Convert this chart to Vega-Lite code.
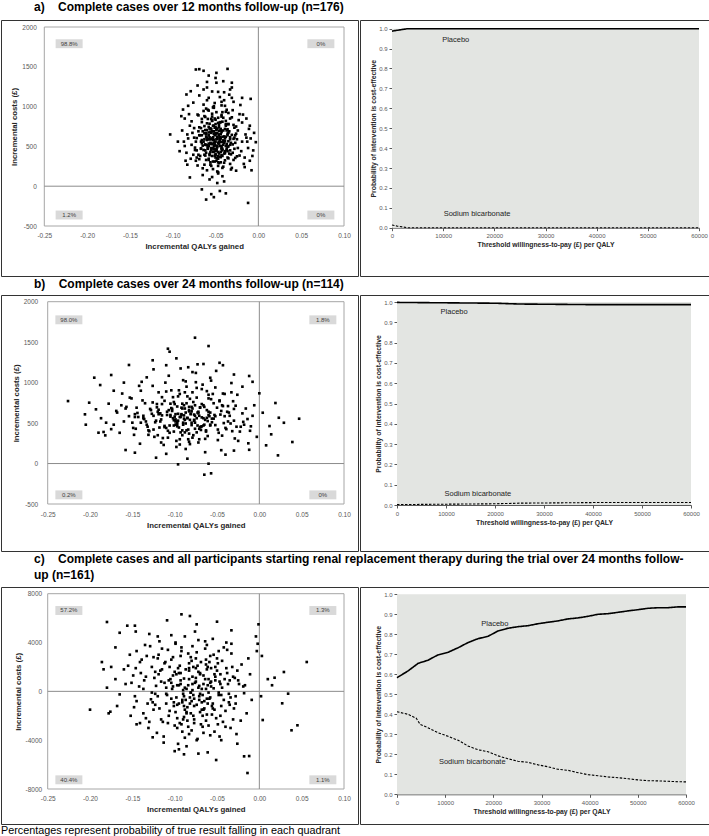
{
"$schema":"https://vega.github.io/schema/vega-lite/v6.json",
"padding":0,
"spacing":0,
"background":"white",
"config":{
 "view":{"stroke":"#333333","strokeWidth":1},
 "font":"Liberation Sans",
 "axis":{"grid":false,"labelFlush":false,"labelOverlap":false,"labelBound":false,"labelColor":"#595959","titleColor":"#262626","labelFont":"Liberation Sans","titleFont":"Liberation Sans","domainColor":"#595959","tickColor":"#595959","titleFontWeight":"bold"},
 "text":{"font":"Liberation Sans"}
},
"title":{"text":"Percentages represent probability of true result falling in each quadrant","orient":"bottom","anchor":"start","frame":"group","fontSize":10.8,"font":"Liberation Sans","fontWeight":"normal","color":"black","offset":0},
"datasets":{
"sa":[
{"q":-0.048,"c":612},{"q":-0.061,"c":420},{"q":-0.035,"c":780},{"q":-0.052,"c":505},{"q":-0.029,"c":330},{"q":-0.070,"c":890},{"q":-0.044,"c":655},{"q":-0.056,"c":270},{"q":-0.039,"c":1010},{"q":-0.066,"c":540},
{"q":-0.051,"c":735},{"q":-0.024,"c":480},{"q":-0.058,"c":950},{"q":-0.043,"c":390},{"q":-0.075,"c":610},{"q":-0.047,"c":160},{"q":-0.033,"c":590},{"q":-0.062,"c":705},{"q":-0.054,"c":820},{"q":-0.037,"c":455},
{"q":-0.069,"c":340},{"q":-0.045,"c":1120},{"q":-0.027,"c":640},{"q":-0.053,"c":580},{"q":-0.041,"c":245},{"q":-0.080,"c":760},{"q":-0.049,"c":470},{"q":-0.031,"c":865},{"q":-0.060,"c":515},{"q":-0.046,"c":695},
{"q":-0.019,"c":560},{"q":-0.064,"c":1215},{"q":-0.050,"c":360},{"q":-0.038,"c":620},{"q":-0.057,"c":85},{"q":-0.042,"c":930},{"q":-0.072,"c":450},{"q":-0.034,"c":410},{"q":-0.055,"c":670},{"q":-0.047,"c":795},
{"q":-0.063,"c":590},{"q":-0.029,"c":1060},{"q":-0.051,"c":525},{"q":-0.084,"c":420},{"q":-0.044,"c":300},{"q":-0.036,"c":715},{"q":-0.059,"c":845},{"q":-0.048,"c":185},{"q":-0.022,"c":385},{"q":-0.067,"c":475},
{"q":-0.053,"c":990},{"q":-0.040,"c":545},{"q":-0.058,"c":640},{"q":-0.031,"c":230},{"q":-0.076,"c":1050},{"q":-0.045,"c":600},{"q":-0.052,"c":435},{"q":-0.026,"c":750},{"q":-0.061,"c":330},{"q":-0.043,"c":875},
{"q":-0.070,"c":690},{"q":-0.049,"c":1300},{"q":-0.035,"c":500},{"q":-0.056,"c":725},{"q":-0.017,"c":280},{"q":-0.046,"c":650},{"q":-0.065,"c":140},{"q":-0.039,"c":565},{"q":-0.054,"c":910},{"q":-0.032,"c":400},
{"q":-0.078,"c":520},{"q":-0.050,"c":780},{"q":-0.042,"c":470},{"q":-0.060,"c":1080},{"q":-0.028,"c":610},{"q":-0.047,"c":345},{"q":-0.058,"c":505},{"q":-0.037,"c":960},{"q":-0.071,"c":260},{"q":-0.044,"c":700},
{"q":-0.055,"c":455},{"q":-0.023,"c":830},{"q":-0.063,"c":665},{"q":-0.048,"c":40},{"q":-0.034,"c":690},{"q":-0.082,"c":600},{"q":-0.051,"c":555},{"q":-0.040,"c":1180},{"q":-0.057,"c":390},{"q":-0.030,"c":525},
{"q":-0.066,"c":805},{"q":-0.045,"c":615},{"q":-0.053,"c":215},{"q":-0.038,"c":760},{"q":-0.074,"c":455},{"q":-0.049,"c":930},{"q":-0.027,"c":355},{"q":-0.060,"c":580},{"q":-0.043,"c":480},{"q":-0.052,"c":1005},
{"q":-0.068,"c":380},{"q":-0.036,"c":640},{"q":-0.056,"c":545},{"q":-0.021,"c":1020},{"q":-0.047,"c":300},{"q":-0.062,"c":870},{"q":-0.041,"c":575},{"q":-0.054,"c":115},{"q":-0.033,"c":850},{"q":-0.077,"c":670},
{"q":-0.050,"c":440},{"q":-0.044,"c":720},{"q":-0.059,"c":960},{"q":-0.026,"c":195},{"q":-0.065,"c":510},{"q":-0.039,"c":415},{"q":-0.052,"c":660},{"q":-0.031,"c":1110},{"q":-0.073,"c":320},{"q":-0.046,"c":535},
{"q":-0.057,"c":785},{"q":-0.014,"c":610},{"q":-0.048,"c":490},{"q":-0.062,"c":385},{"q":-0.035,"c":565},{"q":-0.054,"c":875},{"q":-0.042,"c":230},{"q":-0.069,"c":740},{"q":-0.050,"c":650},{"q":-0.028,"c":470},
{"q":-0.060,"c":1240},{"q":-0.045,"c":370},{"q":-0.038,"c":820},{"q":-0.055,"c":590},{"q":-0.086,"c":505},{"q":-0.049,"c":715},{"q":-0.033,"c":280},{"q":-0.064,"c":455},{"q":-0.043,"c":1060},{"q":-0.052,"c":540},
{"q":-0.024,"c":700},{"q":-0.058,"c":330},{"q":-0.040,"c":625},{"q":-0.071,"c":900},{"q":-0.047,"c":175},{"q":-0.036,"c":495},{"q":-0.053,"c":760},{"q":-0.061,"c":620},{"q":-0.030,"c":955},{"q":-0.046,"c":410},
{"q":-0.067,"c":560},{"q":-0.051,"c":850},{"q":-0.042,"c":450},{"q":-0.079,"c":345},{"q":-0.056,"c":685},{"q":-0.034,"c":1150},{"q":-0.048,"c":595},{"q":-0.063,"c":270},{"q":-0.020,"c":440},{"q":-0.044,"c":805},
{"q":-0.054,"c":380},{"q":-0.039,"c":720},{"q":-0.072,"c":605},{"q":-0.050,"c":1360},{"q":-0.027,"c":545},{"q":-0.059,"c":480},{"q":-0.045,"c":-60},{"q":-0.066,"c":845},{"q":-0.036,"c":360},{"q":-0.052,"c":690},
{"q":-0.041,"c":520},{"q":-0.061,"c":975},{"q":-0.031,"c":645},{"q":-0.047,"c":430},{"q":-0.075,"c":730},{"q":-0.055,"c":255},{"q":-0.043,"c":895},{"q":-0.025,"c":590},{"q":-0.058,"c":745},{"q":-0.049,"c":320},
{"q":-0.064,"c":1025},{"q":-0.037,"c":470},{"q":-0.053,"c":600},{"q":-0.070,"c":395},{"q":-0.046,"c":770},{"q":-0.032,"c":210},{"q":-0.056,"c":530},{"q":-0.081,"c":905},{"q":-0.048,"c":665},{"q":-0.040,"c":1080},
{"q":-0.062,"c":450},{"q":-0.029,"c":770},{"q":-0.051,"c":310},{"q":-0.045,"c":585},{"q":-0.068,"c":640},{"q":-0.035,"c":920},{"q":-0.057,"c":405},{"q":-0.016,"c":360},{"q":-0.050,"c":740},{"q":-0.042,"c":125},
{"q":-0.073,"c":560},{"q":-0.054,"c":1190},{"q":-0.038,"c":505},{"q":-0.060,"c":790},{"q":-0.047,"c":375},{"q":-0.026,"c":660},{"q":-0.065,"c":225},{"q":-0.044,"c":555},{"q":-0.052,"c":985},{"q":-0.033,"c":615},
{"q":-0.089,"c":700},{"q":-0.049,"c":460},{"q":-0.058,"c":675},{"q":-0.041,"c":860},{"q":-0.069,"c":1140},{"q":-0.030,"c":420},{"q":-0.055,"c":535},{"q":-0.046,"c":290},{"q":-0.063,"c":755},{"q":-0.037,"c":700},
{"q":-0.052,"c":580},{"q":-0.076,"c":395},{"q":-0.043,"c":1015},{"q":-0.059,"c":500},{"q":-0.022,"c":905},{"q":-0.048,"c":620},{"q":-0.067,"c":470},{"q":-0.035,"c":350},{"q":-0.054,"c":825},{"q":-0.040,"c":60},
{"q":-0.061,"c":665},{"q":-0.045,"c":505},{"q":-0.071,"c":1265},{"q":-0.050,"c":400},{"q":-0.028,"c":735},{"q":-0.057,"c":590},{"q":-0.039,"c":440},{"q":-0.064,"c":945},{"q":-0.053,"c":310},{"q":-0.032,"c":545},
{"q":-0.047,"c":860},{"q":-0.074,"c":485},{"q":-0.055,"c":720},{"q":-0.042,"c":380},{"q":-0.066,"c":580},{"q":-0.019,"c":800},{"q":-0.051,"c":1045},{"q":-0.060,"c":200},{"q":-0.036,"c":660},{"q":-0.048,"c":510},
{"q":-0.078,"c":815},{"q":-0.044,"c":600},{"q":-0.056,"c":430},{"q":-0.031,"c":1240},{"q":-0.062,"c":520},{"q":-0.049,"c":705},{"q":-0.040,"c":295},{"q":-0.069,"c":640},{"q":-0.053,"c":475},{"q":-0.025,"c":375},
{"q":-0.058,"c":1110},{"q":-0.046,"c":555},{"q":-0.035,"c":780},{"q":-0.072,"c":360},{"q":-0.051,"c":640},{"q":-0.063,"c":880},{"q":-0.043,"c":465},{"q":-0.055,"c":-100},{"q":-0.029,"c":595},{"q":-0.067,"c":730},
{"q":-0.050,"c":395},{"q":-0.038,"c":935},{"q":-0.060,"c":610},{"q":-0.083,"c":270},{"q":-0.047,"c":1185},{"q":-0.054,"c":530},{"q":-0.033,"c":450},{"q":-0.065,"c":690},{"q":-0.042,"c":810},{"q":-0.058,"c":345},
{"q":-0.073,"c":1466},{"q":-0.069,"c":1470},{"q":-0.064,"c":1450},{"q":-0.049,"c":1424},{"q":-0.036,"c":1474},{"q":-0.060,"c":1310},{"q":-0.041,"c":1319},{"q":-0.031,"c":1300},{"q":-0.009,"c":1097},{"q":-0.019,"c":1110},
{"q":-0.103,"c":650},{"q":-0.092,"c":440},{"q":-0.012,"c":-210},{"q":-0.061,"c":-168},{"q":-0.052,"c":-138},{"q":-0.084,"c":1152},{"q":-0.079,"c":1193},{"q":-0.088,"c":963},{"q":-0.003,"c":553},{"q":-0.005,"c":670},
{"q":-0.090,"c":880},{"q":-0.086,"c":850},{"q":-0.007,"c":380},{"q":-0.008,"c":200},{"q":-0.010,"c":760},{"q":-0.094,"c":560},{"q":-0.066,"c":-40},{"q":-0.038,"c":-90},{"q":-0.058,"c":1390},{"q":-0.033,"c":1215},
{"q":-0.012,"c":480},{"q":-0.015,"c":650},{"q":-0.010,"c":320},{"q":-0.018,"c":900},{"q":-0.013,"c":560},{"q":-0.011,"c":720},{"q":-0.016,"c":240},{"q":-0.006,"c":450},{"q":-0.014,"c":850},{"q":-0.009,"c":600},
{"q":-0.085,"c":320},{"q":-0.083,"c":650},{"q":-0.087,"c":560},{"q":-0.082,"c":1010},{"q":-0.080,"c":110},
{"q":-0.050,"c":560},{"q":-0.046,"c":640},{"q":-0.055,"c":480},{"q":-0.041,"c":700},{"q":-0.058,"c":590},{"q":-0.044,"c":430},{"q":-0.052,"c":760},{"q":-0.037,"c":530},{"q":-0.061,"c":650},{"q":-0.048,"c":350},
{"q":-0.053,"c":615},{"q":-0.043,"c":505},{"q":-0.057,"c":725},{"q":-0.039,"c":600},{"q":-0.049,"c":450},{"q":-0.064,"c":560},{"q":-0.045,"c":800},{"q":-0.051,"c":380},{"q":-0.035,"c":670},{"q":-0.059,"c":470},
{"q":-0.047,"c":545},{"q":-0.054,"c":690},{"q":-0.040,"c":410},{"q":-0.062,"c":525},{"q":-0.050,"c":835},{"q":-0.042,"c":620},{"q":-0.056,"c":300},{"q":-0.046,"c":740},{"q":-0.033,"c":520},{"q":-0.060,"c":705},
{"q":-0.049,"c":590},{"q":-0.053,"c":430},{"q":-0.038,"c":780},{"q":-0.057,"c":615},{"q":-0.044,"c":365},{"q":-0.066,"c":640},{"q":-0.051,"c":510},{"q":-0.041,"c":555},{"q":-0.055,"c":845},{"q":-0.047,"c":255},
{"q":-0.052,"c":470},{"q":-0.043,"c":680},{"q":-0.058,"c":535},{"q":-0.036,"c":440},{"q":-0.048,"c":725},{"q":-0.063,"c":395},{"q":-0.045,"c":575},{"q":-0.054,"c":600},{"q":-0.039,"c":325},{"q":-0.050,"c":665}
],
"sb":[
{"q":-0.081,"c":610},{"q":-0.132,"c":455},{"q":-0.047,"c":780},{"q":-0.099,"c":520},{"q":-0.023,"c":395},{"q":-0.158,"c":680},{"q":-0.071,"c":300},{"q":-0.110,"c":890},{"q":-0.062,"c":565},{"q":-0.089,"c":720},
{"q":-0.125,"c":590},{"q":-0.038,"c":640},{"q":-0.094,"c":235},{"q":-0.075,"c":1005},{"q":-0.146,"c":430},{"q":-0.056,"c":510},{"q":-0.103,"c":675},{"q":-0.014,"c":550},{"q":-0.085,"c":830},{"q":-0.120,"c":350},
{"q":-0.066,"c":470},{"q":-0.178,"c":740},{"q":-0.092,"c":600},{"q":-0.043,"c":865},{"q":-0.108,"c":405},{"q":-0.079,"c":1130},{"q":-0.137,"c":560},{"q":-0.029,"c":310},{"q":-0.097,"c":705},{"q":-0.060,"c":640},
{"q":-0.115,"c":820},{"q":-0.087,"c":180},{"q":-0.052,"c":585},{"q":-0.142,"c":960},{"q":-0.073,"c":470},{"q":-0.006,"c":720},{"q":-0.101,"c":535},{"q":-0.165,"c":380},{"q":-0.083,"c":660},{"q":-0.034,"c":495},
{"q":-0.129,"c":675},{"q":-0.068,"c":920},{"q":-0.095,"c":445},{"q":-0.049,"c":290},{"q":-0.118,"c":615},{"q":-0.078,"c":760},{"q":-0.187,"c":560},{"q":-0.058,"c":1060},{"q":-0.106,"c":380},{"q":-0.020,"c":620},
{"q":-0.090,"c":505},{"q":-0.151,"c":805},{"q":-0.040,"c":440},{"q":-0.113,"c":230},{"q":-0.070,"c":690},{"q":-0.134,"c":520},{"q":-0.084,"c":1190},{"q":-0.026,"c":850},{"q":-0.099,"c":610},{"q":-0.063,"c":395},
{"q":-0.121,"c":735},{"q":-0.054,"c":555},{"q":-0.172,"c":480},{"q":-0.088,"c":880},{"q":-0.045,"c":165},{"q":-0.109,"c":640},{"q":-0.076,"c":430},{"q":-0.139,"c":1010},{"q":-0.011,"c":405},{"q":-0.093,"c":575},
{"q":-0.065,"c":700},{"q":-0.124,"c":330},{"q":-0.081,"c":615},{"q":-0.033,"c":995},{"q":-0.154,"c":585},{"q":-0.097,"c":460},{"q":-0.057,"c":795},{"q":-0.116,"c":545},{"q":-0.072,"c":260},{"q":-0.193,"c":670},
{"q":-0.086,"c":950},{"q":-0.046,"c":605},{"q":-0.130,"c":400},{"q":-0.101,"c":760},{"q":-0.018,"c":480},{"q":-0.078,"c":350},{"q":-0.145,"c":690},{"q":-0.061,"c":525},{"q":-0.107,"c":1085},{"q":-0.037,"c":710},
{"q":-0.094,"c":300},{"q":-0.162,"c":865},{"q":-0.069,"c":455},{"q":-0.117,"c":620},{"q":-0.051,"c":1145},{"q":-0.088,"c":540},{"q":-0.003,"c":330},{"q":-0.126,"c":755},{"q":-0.080,"c":645},{"q":-0.141,"c":245},
{"q":-0.059,"c":585},{"q":-0.104,"c":905},{"q":-0.030,"c":530},{"q":-0.084,"c":420},{"q":-0.168,"c":630},{"q":-0.074,"c":815},{"q":-0.112,"c":465},{"q":-0.044,"c":720},{"q":-0.098,"c":205},{"q":-0.136,"c":550},
{"q":-0.067,"c":975},{"q":-0.092,"c":610},{"q":-0.025,"c":280},{"q":-0.121,"c":695},{"q":-0.083,"c":370},{"q":-0.150,"c":505},{"q":-0.055,"c":860},{"q":-0.105,"c":740},{"q":-0.077,"c":540},{"q":-0.039,"c":425},
{"q":-0.133,"c":1065},{"q":-0.090,"c":480},{"q":-0.062,"c":660},{"q":-0.114,"c":315},{"q":-0.008,"c":590},{"q":-0.096,"c":830},{"q":-0.175,"c":425},{"q":-0.071,"c":590},{"q":-0.048,"c":380},{"q":-0.127,"c":615},
{"q":-0.086,"c":745},{"q":-0.140,"c":900},{"q":-0.064,"c":140},{"q":-0.102,"c":560},{"q":-0.031,"c":770},{"q":-0.080,"c":505},{"q":-0.118,"c":445},{"q":-0.052,"c":940},{"q":-0.157,"c":700},{"q":-0.093,"c":385},
{"q":-0.073,"c":630},{"q":-0.110,"c":1215},{"q":-0.042,"c":500},{"q":-0.088,"c":680},{"q":-0.131,"c":355},{"q":-0.060,"c":805},{"q":-0.100,"c":580},{"q":-0.016,"c":680},{"q":-0.082,"c":240},{"q":-0.147,"c":575},
{"q":-0.069,"c":415},{"q":-0.095,"c":905},{"q":-0.036,"c":630},{"q":-0.123,"c":510},{"q":-0.076,"c":720},{"q":-0.184,"c":390},{"q":-0.056,"c":555},{"q":-0.107,"c":660},{"q":-0.090,"c":1030},{"q":-0.027,"c":455},
{"q":-0.138,"c":780},{"q":-0.079,"c":320},{"q":-0.050,"c":690},{"q":-0.115,"c":595},{"q":-0.065,"c":480},{"q":-0.098,"c":280},{"q":-0.144,"c":625},{"q":-0.041,"c":860},{"q":-0.085,"c":565},{"q":-0.119,"c":880},
{"q":-0.061,"c":340},{"q":-0.160,"c":520},{"q":-0.091,"c":740},{"q":-0.032,"c":400},{"q":-0.106,"c":470},{"q":-0.074,"c":935},{"q":-0.128,"c":660},{"q":-0.053,"c":600},{"q":-0.013,"c":250},{"q":-0.097,"c":515},
{"q":-0.082,"c":800},{"q":-0.149,"c":440},{"q":-0.068,"c":570},{"q":-0.111,"c":1000},{"q":-0.044,"c":345},{"q":-0.087,"c":630},{"q":-0.135,"c":745},{"q":-0.058,"c":470},{"q":-0.101,"c":395},{"q":-0.075,"c":1120},
{"q":-0.122,"c":530},{"q":-0.035,"c":590},{"q":-0.094,"c":860},{"q":-0.169,"c":650},{"q":-0.063,"c":410},{"q":-0.104,"c":685},{"q":-0.080,"c":475},{"q":-0.047,"c":770},{"q":-0.116,"c":260},{"q":-0.089,"c":595},
{"q":-0.070,"c":695},{"q":-0.143,"c":575},{"q":-0.022,"c":455},{"q":-0.099,"c":480},{"q":-0.057,"c":1025},{"q":-0.125,"c":420},{"q":-0.083,"c":700},{"q":-0.037,"c":520},{"q":-0.153,"c":815},{"q":-0.091,"c":350},
{"q":-0.066,"c":560},{"q":-0.112,"c":775},{"q":-0.049,"c":420},{"q":-0.079,"c":880},{"q":-0.133,"c":480},{"q":-0.096,"c":615},{"q":-0.028,"c":715},{"q":-0.108,"c":320},{"q":-0.072,"c":640},{"q":-0.181,"c":505},
{"q":-0.054,"c":745},{"q":-0.086,"c":410},{"q":-0.119,"c":665},{"q":-0.041,"c":585},{"q":-0.093,"c":1175},{"q":-0.064,"c":305},{"q":-0.147,"c":610},{"q":-0.077,"c":530},{"q":-0.102,"c":820},{"q":-0.010,"c":460},
{"q":-0.131,"c":410},{"q":-0.060,"c":850},{"q":-0.089,"c":555},{"q":-0.045,"c":650},{"q":-0.115,"c":735},{"q":-0.074,"c":385},{"q":-0.163,"c":720},{"q":-0.097,"c":490},{"q":-0.033,"c":880},{"q":-0.083,"c":270},
{"q":-0.105,"c":600},{"q":-0.068,"c":735},{"q":-0.140,"c":505},{"q":-0.052,"c":475},{"q":-0.091,"c":680},{"q":-0.126,"c":960},{"q":-0.076,"c":590},{"q":-0.019,"c":515},{"q":-0.110,"c":440},{"q":-0.058,"c":630},
{"q":-0.087,"c":1015},{"q":-0.148,"c":355},{"q":-0.043,"c":710},{"q":-0.099,"c":545},{"q":-0.070,"c":450},{"q":-0.120,"c":640},{"q":-0.062,"c":895},{"q":-0.084,"c":300},{"q":-0.137,"c":590},{"q":-0.030,"c":675},
{"q":-0.226,"c":772},{"q":-0.201,"c":752},{"q":-0.206,"c":608},{"q":-0.195,"c":1061},{"q":-0.188,"c":970},{"q":-0.175,"c":1094},{"q":-0.154,"c":1218},{"q":-0.126,"c":1276},{"q":-0.125,"c":1164},{"q":-0.108,"c":1419},
{"q":-0.106,"c":1382},{"q":-0.076,"c":1555},{"q":-0.060,"c":1452},{"q":-0.073,"c":1226},{"q":-0.066,"c":1230},{"q":-0.047,"c":1245},{"q":-0.043,"c":1215},{"q":-0.012,"c":1082},{"q":0.000,"c":868},{"q":0.019,"c":748},
{"q":0.047,"c":554},{"q":0.039,"c":266},{"q":0.023,"c":566},{"q":0.029,"c":504},{"q":0.012,"c":463},{"q":0.014,"c":361},{"q":0.008,"c":225},{"q":0.004,"c":628},{"q":0.022,"c":101},{"q":-0.190,"c":381},
{"q":-0.182,"c":348},{"q":-0.158,"c":167},{"q":-0.147,"c":134},{"q":-0.122,"c":72},{"q":-0.096,"c":-10},{"q":-0.065,"c":-138},{"q":-0.057,"c":-121},{"q":-0.060,"c":-2},{"q":-0.098,"c":1300},{"q":-0.160,"c":1000},
{"q":-0.205,"c":480},{"q":-0.172,"c":900},{"q":-0.020,"c":950},{"q":-0.008,"c":1010},{"q":-0.030,"c":1100},{"q":-0.012,"c":170},{"q":-0.030,"c":160},{"q":-0.040,"c":110},{"q":-0.085,"c":60},{"q":-0.110,"c":120},
{"q":-0.085,"c":560},{"q":-0.072,"c":620},{"q":-0.098,"c":480},{"q":-0.064,"c":540},{"q":-0.109,"c":600},{"q":-0.080,"c":700},{"q":-0.091,"c":410},{"q":-0.076,"c":505},{"q":-0.103,"c":650},{"q":-0.068,"c":460},
{"q":-0.094,"c":575},{"q":-0.083,"c":645},{"q":-0.117,"c":520},{"q":-0.060,"c":600},{"q":-0.088,"c":385},{"q":-0.100,"c":735},{"q":-0.074,"c":560},{"q":-0.112,"c":450},{"q":-0.079,"c":680},{"q":-0.096,"c":530},
{"q":-0.066,"c":720},{"q":-0.087,"c":495},{"q":-0.105,"c":580},{"q":-0.071,"c":430},{"q":-0.092,"c":690},{"q":-0.082,"c":540},{"q":-0.119,"c":610},{"q":-0.058,"c":480},{"q":-0.101,"c":470},{"q":-0.077,"c":605}
],
"sc":[
{"q":-0.071,"c":450},{"q":-0.112,"c":2300},{"q":-0.045,"c":-1200},{"q":-0.089,"c":1050},{"q":-0.033,"c":3100},{"q":-0.128,"c":-650},{"q":-0.062,"c":1800},{"q":-0.097,"c":-2200},{"q":-0.054,"c":250},{"q":-0.140,"c":1500},
{"q":-0.080,"c":-800},{"q":-0.025,"c":900},{"q":-0.108,"c":3400},{"q":-0.067,"c":-300},{"q":-0.151,"c":700},{"q":-0.049,"c":-2700},{"q":-0.093,"c":600},{"q":-0.039,"c":1900},{"q":-0.118,"c":-1400},{"q":-0.075,"c":2700},
{"q":-0.058,"c":-500},{"q":-0.133,"c":2900},{"q":-0.086,"c":-1700},{"q":-0.018,"c":-150},{"q":-0.102,"c":1300},{"q":-0.064,"c":4100},{"q":-0.165,"c":-250},{"q":-0.047,"c":800},{"q":-0.091,"c":-3300},{"q":-0.122,"c":450},
{"q":-0.070,"c":1500},{"q":-0.036,"c":-900},{"q":-0.110,"c":-200},{"q":-0.083,"c":2300},{"q":-0.145,"c":3300},{"q":-0.056,"c":-1900},{"q":-0.099,"c":3900},{"q":-0.028,"c":-400},{"q":-0.077,"c":-2600},{"q":-0.124,"c":1100},
{"q":-0.061,"c":2000},{"q":-0.095,"c":-1000},{"q":-0.042,"c":3600},{"q":-0.137,"c":-1800},{"q":-0.079,"c":600},{"q":-0.113,"c":-3700},{"q":-0.052,"c":1200},{"q":-0.088,"c":4500},{"q":-0.011,"c":1400},{"q":-0.104,"c":-600},
{"q":-0.068,"c":-1500},{"q":-0.155,"c":2100},{"q":-0.031,"c":-2300},{"q":-0.090,"c":100},{"q":-0.120,"c":2700},{"q":-0.059,"c":-600},{"q":-0.100,"c":-2800},{"q":-0.044,"c":2500},{"q":-0.081,"c":-100},{"q":-0.131,"c":-3000},
{"q":-0.074,"c":3200},{"q":-0.048,"c":-100},{"q":-0.107,"c":900},{"q":-0.021,"c":2200},{"q":-0.085,"c":-1300},{"q":-0.142,"c":400},{"q":-0.063,"c":2600},{"q":-0.096,"c":-4300},{"q":-0.037,"c":600},{"q":-0.117,"c":1700},
{"q":-0.078,"c":-2000},{"q":-0.055,"c":4300},{"q":-0.126,"c":-900},{"q":-0.087,"c":1800},{"q":-0.040,"c":-1600},{"q":-0.103,"c":200},{"q":-0.170,"c":1000},{"q":-0.066,"c":-3400},{"q":-0.093,"c":2900},{"q":-0.029,"c":1100},
{"q":-0.114,"c":-2500},{"q":-0.072,"c":300},{"q":-0.050,"c":1700},{"q":-0.135,"c":3800},{"q":-0.082,"c":-500},{"q":-0.098,"c":1400},{"q":-0.034,"c":-3000},{"q":-0.061,"c":-1000},{"q":-0.148,"c":-1300},{"q":-0.076,"c":4900},
{"q":-0.106,"c":-1600},{"q":-0.044,"c":300},{"q":-0.088,"c":-3800},{"q":-0.119,"c":3000},{"q":-0.057,"c":800},{"q":-0.015,"c":-1800},{"q":-0.094,"c":2100},{"q":-0.069,"c":-2700},{"q":-0.160,"c":1800},{"q":-0.083,"c":1000},
{"q":-0.051,"c":-2200},{"q":-0.127,"c":-100},{"q":-0.079,"c":3700},{"q":-0.101,"c":-1200},{"q":-0.038,"c":1500},{"q":-0.065,"c":-800},{"q":-0.111,"c":2400},{"q":-0.090,"c":-200},{"q":-0.027,"c":-3500},{"q":-0.141,"c":2400},
{"q":-0.073,"c":-3900},{"q":-0.058,"c":2900},{"q":-0.097,"c":500},{"q":-0.046,"c":-2000},{"q":-0.123,"c":1600},{"q":-0.084,"c":-2900},{"q":-0.033,"c":3900},{"q":-0.109,"c":-300},{"q":-0.066,"c":1300},{"q":-0.152,"c":-2000},
{"q":-0.080,"c":2500},{"q":-0.042,"c":-700},{"q":-0.116,"c":-2300},{"q":-0.061,"c":500},{"q":-0.092,"c":3300},{"q":-0.024,"c":600},{"q":-0.134,"c":1200},{"q":-0.070,"c":-1700},{"q":-0.104,"c":4600},{"q":-0.053,"c":-3300},
{"q":-0.087,"c":-700},{"q":-0.147,"c":-400},{"q":-0.032,"c":2000},{"q":-0.099,"c":-1700},{"q":-0.075,"c":1100},{"q":-0.121,"c":-3400},{"q":-0.056,"c":-1200},{"q":-0.009,"c":-700},{"q":-0.093,"c":1500},{"q":-0.064,"c":3500},
{"q":-0.112,"c":700},{"q":-0.045,"c":-4000},{"q":-0.082,"c":-1000},{"q":-0.139,"c":2600},{"q":-0.068,"c":200},{"q":-0.100,"c":-4900},{"q":-0.036,"c":-200},{"q":-0.078,"c":2000},{"q":-0.125,"c":-1500},{"q":-0.057,"c":1900},
{"q":-0.094,"c":-2600},{"q":-0.019,"c":400},{"q":-0.071,"c":-400},{"q":-0.115,"c":3500},{"q":-0.049,"c":2300},{"q":-0.086,"c":-4500},{"q":-0.158,"c":600},{"q":-0.063,"c":-2400},{"q":-0.105,"c":1000},{"q":-0.030,"c":-1400},
{"q":-0.076,"c":700},{"q":-0.130,"c":-2500},{"q":-0.054,"c":3000},{"q":-0.091,"c":-900},{"q":-0.041,"c":1000},{"q":-0.118,"c":4100},{"q":-0.067,"c":-2900},{"q":-0.083,"c":1700},{"q":-0.145,"c":-800},{"q":-0.060,"c":-100},
{"q":-0.102,"c":2800},{"q":-0.035,"c":-1100},{"q":-0.089,"c":-2100},{"q":-0.072,"c":4200},{"q":-0.123,"c":-200},{"q":-0.047,"c":-3700},{"q":-0.096,"c":1900},{"q":-0.062,"c":-1900},{"q":-0.175,"c":2000},{"q":-0.080,"c":-3200},
{"q":-0.052,"c":900},{"q":-0.110,"c":-1000},{"q":-0.026,"c":1700},{"q":-0.085,"c":-2400},{"q":-0.136,"c":900},{"q":-0.069,"c":2400},{"q":-0.098,"c":-500},{"q":-0.043,"c":-2500},{"q":-0.119,"c":1400},{"q":-0.074,"c":-1100},
{"q":-0.058,"c":-3600},{"q":-0.092,"c":3600},{"q":-0.013,"c":2700},{"q":-0.107,"c":-2000},{"q":-0.077,"c":-2300},{"q":-0.149,"c":1300},{"q":-0.064,"c":1000},{"q":-0.039,"c":4000},{"q":-0.127,"c":2000},{"q":-0.086,"c":200},
{"q":-0.100,"c":1600},{"q":-0.053,"c":-1500},{"q":-0.081,"c":2800},{"q":-0.132,"c":-1000},{"q":-0.066,"c":600},{"q":-0.022,"c":-2400},{"q":-0.113,"c":-4200},{"q":-0.071,"c":-700},{"q":-0.095,"c":500},{"q":-0.048,"c":3300},
{"q":-0.141,"c":-2600},{"q":-0.075,"c":1900},{"q":-0.034,"c":-500},{"q":-0.104,"c":2600},{"q":-0.060,"c":-2800},{"q":-0.088,"c":-1500},{"q":-0.120,"c":-400},{"q":-0.046,"c":1400},{"q":-0.168,"c":-1200},{"q":-0.079,"c":100},
{"q":-0.097,"c":-3000},{"q":-0.063,"c":2200},{"q":-0.031,"c":1200},{"q":-0.116,"c":800},{"q":-0.084,"c":3100},{"q":-0.055,"c":-1000},{"q":-0.129,"c":3700},{"q":-0.072,"c":-5100},{"q":-0.040,"c":-2900},{"q":-0.106,"c":2000},
{"q":-0.089,"c":-1200},{"q":-0.153,"c":3000},{"q":-0.065,"c":-1400},{"q":-0.017,"c":500},{"q":-0.099,"c":4000},{"q":-0.077,"c":-600},{"q":-0.134,"c":-2200},{"q":-0.050,"c":2700},{"q":-0.110,"c":300},{"q":-0.083,"c":-3500},
{"q":-0.057,"c":400},{"q":-0.123,"c":-1100},{"q":-0.038,"c":3400},{"q":-0.092,"c":-2700},{"q":-0.070,"c":1400},{"q":-0.146,"c":1900},{"q":-0.045,"c":-300},{"q":-0.101,"c":-900},{"q":-0.074,"c":-4000},{"q":-0.028,"c":-1000},
{"q":-0.115,"c":1800},{"q":-0.081,"c":-1800},{"q":-0.052,"c":2000},{"q":-0.137,"c":200},{"q":-0.090,"c":-2300},{"q":-0.062,"c":3800},{"q":-0.108,"c":-2600},{"q":-0.035,"c":900},{"q":-0.078,"c":-300},{"q":-0.125,"c":2800},
{"q":-0.092,"c":6310},{"q":-0.082,"c":6173},{"q":-0.180,"c":5682},{"q":-0.109,"c":5818},{"q":-0.050,"c":5707},{"q":-0.074,"c":5490},{"q":-0.001,"c":5490},{"q":-0.156,"c":5380},{"q":-0.147,"c":5380},{"q":-0.146,"c":4900},
{"q":0.056,"c":2404},{"q":-0.184,"c":1805},{"q":-0.180,"c":300},{"q":0.029,"c":1585},{"q":0.018,"c":1117},{"q":0.034,"c":-190},{"q":0.027,"c":-980},{"q":0.045,"c":-2782},{"q":0.038,"c":-3190},{"q":-0.014,"c":-6690},
{"q":-0.018,"c":-5325},{"q":-0.051,"c":-5625},{"q":-0.089,"c":-5160},{"q":-0.095,"c":-4750},{"q":-0.176,"c":-1668},{"q":-0.145,"c":-2700},{"q":-0.126,"c":-3765},{"q":-0.026,"c":-4290},{"q":0.004,"c":-2350},{"q":-0.200,"c":-1500},
{"q":-0.178,"c":-1800},{"q":-0.165,"c":4800},{"q":-0.170,"c":3600},{"q":-0.186,"c":2400},{"q":-0.002,"c":3900},{"q":-0.003,"c":3300},{"q":0.003,"c":2900},{"q":0.010,"c":1000},{"q":0.015,"c":500},{"q":-0.012,"c":-5300},
{"q":-0.061,"c":-5000},{"q":-0.130,"c":4700},{"q":-0.120,"c":4500},{"q":-0.033,"c":5000},{"q":-0.004,"c":4500},{"q":0.002,"c":-400},
{"q":-0.075,"c":800},{"q":-0.062,"c":-600},{"q":-0.088,"c":300},{"q":-0.053,"c":1400},{"q":-0.097,"c":-1100},{"q":-0.070,"c":-200},{"q":-0.083,"c":1900},{"q":-0.058,"c":700},{"q":-0.102,"c":400},{"q":-0.066,"c":-1500},
{"q":-0.079,"c":1200},{"q":-0.091,"c":-700},{"q":-0.048,"c":-300},{"q":-0.073,"c":2100},{"q":-0.086,"c":-1800},{"q":-0.060,"c":1000},{"q":-0.095,"c":1500},{"q":-0.068,"c":-900},{"q":-0.081,"c":-100},{"q":-0.055,"c":-1400},
{"q":-0.104,"c":700},{"q":-0.072,"c":1600},{"q":-0.089,"c":-400},{"q":-0.063,"c":200},{"q":-0.077,"c":-1200},{"q":-0.046,"c":600},{"q":-0.093,"c":900},{"q":-0.067,"c":-2000},{"q":-0.084,"c":500},{"q":-0.059,"c":2400}
],
"qa":[{"lab":"98.8%","q":-0.221,"c":1790},{"lab":"0%","q":0.073,"c":1790},{"lab":"1.2%","q":-0.221,"c":-362},{"lab":"0%","q":0.073,"c":-362}],
"qb":[{"lab":"98.0%","q":-0.225,"c":1776},{"lab":"1.8%","q":0.075,"c":1776},{"lab":"0.2%","q":-0.225,"c":-387},{"lab":"0%","q":0.075,"c":-387}],
"qc":[{"lab":"57.2%","q":-0.225,"c":6624},{"lab":"1.3%","q":0.075,"c":6624},{"lab":"40.4%","q":-0.225,"c":-7247},{"lab":"1.1%","q":0.075,"c":-7247}],
"ca":[
{"s":"Placebo","w":0,"v":0.988},{"s":"Placebo","w":1000,"v":0.992},{"s":"Placebo","w":2000,"v":0.996},{"s":"Placebo","w":3000,"v":1.0},{"s":"Placebo","w":60000,"v":1.0},
{"s":"Sodium bicarbonate","w":0,"v":0.014},{"s":"Sodium bicarbonate","w":1000,"v":0.008},{"s":"Sodium bicarbonate","w":2000,"v":0.004},{"s":"Sodium bicarbonate","w":3000,"v":0.0},{"s":"Sodium bicarbonate","w":60000,"v":0.0}
],
"cb":[
{"s":"Placebo","w":0,"v":0.998},{"s":"Placebo","w":5000,"v":0.997},{"s":"Placebo","w":10000,"v":0.996},{"s":"Placebo","w":15000,"v":0.995},{"s":"Placebo","w":20000,"v":0.994},{"s":"Placebo","w":25000,"v":0.99},{"s":"Placebo","w":30000,"v":0.989},{"s":"Placebo","w":35000,"v":0.988},{"s":"Placebo","w":40000,"v":0.987},{"s":"Placebo","w":50000,"v":0.987},{"s":"Placebo","w":60000,"v":0.987},
{"s":"Sodium bicarbonate","w":0,"v":0.002},{"s":"Sodium bicarbonate","w":5000,"v":0.003},{"s":"Sodium bicarbonate","w":10000,"v":0.004},{"s":"Sodium bicarbonate","w":15000,"v":0.005},{"s":"Sodium bicarbonate","w":20000,"v":0.006},{"s":"Sodium bicarbonate","w":25000,"v":0.009},{"s":"Sodium bicarbonate","w":30000,"v":0.01},{"s":"Sodium bicarbonate","w":35000,"v":0.011},{"s":"Sodium bicarbonate","w":40000,"v":0.012},{"s":"Sodium bicarbonate","w":50000,"v":0.012},{"s":"Sodium bicarbonate","w":60000,"v":0.012}
],
"cc":[
{"s":"Placebo","w":0,"v":0.583},{"s":"Placebo","w":2300,"v":0.617},{"s":"Placebo","w":4400,"v":0.655},{"s":"Placebo","w":6400,"v":0.67},{"s":"Placebo","w":8500,"v":0.697},{"s":"Placebo","w":10600,"v":0.71},{"s":"Placebo","w":12700,"v":0.733},{"s":"Placebo","w":14700,"v":0.758},{"s":"Placebo","w":16800,"v":0.778},{"s":"Placebo","w":18900,"v":0.79},{"s":"Placebo","w":21000,"v":0.817},{"s":"Placebo","w":23000,"v":0.83},{"s":"Placebo","w":25100,"v":0.838},{"s":"Placebo","w":27200,"v":0.843},{"s":"Placebo","w":29300,"v":0.853},{"s":"Placebo","w":31300,"v":0.86},{"s":"Placebo","w":33400,"v":0.867},{"s":"Placebo","w":35500,"v":0.877},{"s":"Placebo","w":37600,"v":0.882},{"s":"Placebo","w":39700,"v":0.89},{"s":"Placebo","w":41700,"v":0.9},{"s":"Placebo","w":43800,"v":0.903},{"s":"Placebo","w":45900,"v":0.91},{"s":"Placebo","w":48000,"v":0.917},{"s":"Placebo","w":50000,"v":0.923},{"s":"Placebo","w":52100,"v":0.93},{"s":"Placebo","w":54200,"v":0.933},{"s":"Placebo","w":56300,"v":0.933},{"s":"Placebo","w":58300,"v":0.937},{"s":"Placebo","w":60000,"v":0.937},
{"s":"Sodium bicarbonate","w":0,"v":0.413},{"s":"Sodium bicarbonate","w":2300,"v":0.4},{"s":"Sodium bicarbonate","w":4000,"v":0.38},{"s":"Sodium bicarbonate","w":4800,"v":0.35},{"s":"Sodium bicarbonate","w":6400,"v":0.333},{"s":"Sodium bicarbonate","w":8500,"v":0.308},{"s":"Sodium bicarbonate","w":10600,"v":0.29},{"s":"Sodium bicarbonate","w":12700,"v":0.27},{"s":"Sodium bicarbonate","w":14700,"v":0.242},{"s":"Sodium bicarbonate","w":16800,"v":0.223},{"s":"Sodium bicarbonate","w":18900,"v":0.213},{"s":"Sodium bicarbonate","w":21000,"v":0.192},{"s":"Sodium bicarbonate","w":23000,"v":0.178},{"s":"Sodium bicarbonate","w":25100,"v":0.165},{"s":"Sodium bicarbonate","w":27200,"v":0.16},{"s":"Sodium bicarbonate","w":29300,"v":0.147},{"s":"Sodium bicarbonate","w":31300,"v":0.138},{"s":"Sodium bicarbonate","w":33400,"v":0.125},{"s":"Sodium bicarbonate","w":35500,"v":0.12},{"s":"Sodium bicarbonate","w":37600,"v":0.108},{"s":"Sodium bicarbonate","w":39700,"v":0.098},{"s":"Sodium bicarbonate","w":41700,"v":0.093},{"s":"Sodium bicarbonate","w":43800,"v":0.087},{"s":"Sodium bicarbonate","w":45900,"v":0.083},{"s":"Sodium bicarbonate","w":48000,"v":0.078},{"s":"Sodium bicarbonate","w":50000,"v":0.072},{"s":"Sodium bicarbonate","w":52100,"v":0.068},{"s":"Sodium bicarbonate","w":54200,"v":0.067},{"s":"Sodium bicarbonate","w":56300,"v":0.065},{"s":"Sodium bicarbonate","w":58300,"v":0.063},{"s":"Sodium bicarbonate","w":60000,"v":0.062}
],
"ta":[{"t":"Placebo","w":9800,"v":0.943},{"t":"Sodium bicarbonate","w":10100,"v":0.069}],
"tb":[{"t":"Placebo","w":8900,"v":0.951},{"t":"Sodium bicarbonate","w":9700,"v":0.053}],
"tc":[{"t":"Placebo","w":17500,"v":0.85},{"t":"Sodium bicarbonate","w":8700,"v":0.162}]
},
"vconcat":[
{
"title":{"text":"a)\u00a0\u00a0\u00a0\u00a0Complete cases over 12 months follow-up (n=176)","anchor":"start","frame":"group","dx":33,"fontSize":12,"font":"Liberation Sans","fontWeight":"bold","color":"black","offset":6},
"spacing":0,
"hconcat":[
{"width":357,"height":256,
"layer":[
{"data":{"values":[{}]},"mark":{"type":"rect","fillOpacity":0,"stroke":"#a6a6a6","strokeWidth":1},
"encoding":{
"x":{"datum":-0.25,"type":"quantitative","scale":{"domain":[-0.25,0.1],"range":[43.3,343],"nice":false,"zero":false},
"axis":{"offset":-50,"values":[-0.25,-0.2,-0.15,-0.1,-0.05,0,0.05,0.1],"labelExpr":"replace(format(datum.value,'.2f'),'\u2212','-')","domain":false,"ticks":false,"labelOverlap":false,"labelPadding":6,"labelFontSize":6.5,"title":"Incremental QALYs gained","titleFontSize":7.8,"titlePadding":4}},
"x2":{"datum":0.1},
"y":{"datum":-500,"type":"quantitative","scale":{"domain":[-500,2000],"range":[206,7],"nice":false,"zero":false},
"axis":{"offset":-43.3,"values":[-500,0,500,1000,1500,2000],"labelExpr":"replace(format(datum.value,'d'),'\u2212','-')","domain":false,"ticks":false,"labelOverlap":false,"labelPadding":8,"labelFontSize":6.5,"title":"Incremental costs (£)","titleFontSize":7.8,"titlePadding":3}},
"y2":{"datum":2000}}},
{"data":{"values":[{}]},"mark":{"type":"rule","color":"#8c8c8c"},"encoding":{"x":{"datum":0,"type":"quantitative"},"y":{"datum":-500,"type":"quantitative"},"y2":{"datum":2000}}},
{"data":{"values":[{}]},"mark":{"type":"rule","color":"#8c8c8c"},"encoding":{"y":{"datum":0,"type":"quantitative"},"x":{"datum":-0.25,"type":"quantitative"},"x2":{"datum":0.1}}},
{"data":{"name":"sa"},"mark":{"type":"square","size":7,"color":"black","opacity":1},"encoding":{"x":{"field":"q","type":"quantitative"},"y":{"field":"c","type":"quantitative"}}},
{"data":{"name":"qa"},"mark":{"type":"point","shape":"M-1,-0.33L1,-0.33L1,0.33L-1,0.33Z","size":729,"filled":true,"color":"#d9d9d9","opacity":1,"strokeWidth":0},"encoding":{"x":{"field":"q","type":"quantitative"},"y":{"field":"c","type":"quantitative"}}},
{"data":{"name":"qa"},"mark":{"type":"text","fontSize":6,"color":"#404040"},"encoding":{"x":{"field":"q","type":"quantitative"},"y":{"field":"c","type":"quantitative"},"text":{"field":"lab"}}}
]},
{"width":351,"height":256,
"layer":[
{"data":{"values":[{}]},"mark":{"type":"rect","color":"#e3e5e2"},
"encoding":{
"x":{"datum":0,"type":"quantitative","scale":{"domain":[0,60000],"range":[32,339],"nice":false,"zero":false},
"axis":{"offset":-48.3,"values":[0,10000,20000,30000,40000,50000,60000],"format":"d","tickSize":3,"labelOverlap":false,"labelPadding":2,"labelFontSize":6,"title":"Threshold willingness-to-pay (£) per QALY","titleFontSize":6.8,"titlePadding":3}},
"x2":{"datum":60000},
"y":{"datum":0,"type":"quantitative","scale":{"domain":[0,1],"range":[207.7,8.7],"nice":false,"zero":false},
"axis":{"offset":-32,"values":[0,0.1,0.2,0.3,0.4,0.5,0.6,0.7,0.8,0.9,1],"format":".1f","tickSize":3,"labelOverlap":false,"labelPadding":2,"labelFontSize":6,"title":"Probability of intervention is cost-effective","titleFontSize":6.8,"titlePadding":2}},
"y2":{"datum":1}}},
{"data":{"name":"ca"},"mark":{"type":"line","color":"black"},"encoding":{
"x":{"field":"w","type":"quantitative","scale":{"domain":[0,60000],"range":[32,339],"nice":false,"zero":false},
"axis":{"offset":-48.3,"values":[0,10000,20000,30000,40000,50000,60000],"format":"d","tickSize":3,"labelOverlap":false,"labelPadding":2,"labelFontSize":6,"title":"Threshold willingness-to-pay (£) per QALY","titleFontSize":6.8,"titlePadding":3}},
"y":{"field":"v","type":"quantitative","scale":{"domain":[0,1],"range":[207.7,8.7],"nice":false,"zero":false},
"axis":{"offset":-32,"values":[0,0.1,0.2,0.3,0.4,0.5,0.6,0.7,0.8,0.9,1],"format":".1f","tickSize":3,"labelOverlap":false,"labelPadding":2,"labelFontSize":6,"title":"Probability of intervention is cost-effective","titleFontSize":6.8,"titlePadding":2}},
"strokeDash":{"field":"s","type":"nominal","scale":{"domain":["Placebo","Sodium bicarbonate"],"range":[[1,0],[2.5,1.5]]},"legend":null},
"strokeWidth":{"field":"s","type":"nominal","scale":{"domain":["Placebo","Sodium bicarbonate"],"range":[1.6,1.1]},"legend":null}}},
{"data":{"name":"ta"},"mark":{"type":"text","align":"left","baseline":"middle","fontSize":7.5,"color":"#222222"},"encoding":{
"x":{"field":"w","type":"quantitative","scale":{"domain":[0,60000],"range":[32,339],"nice":false,"zero":false},
"axis":{"offset":-48.3,"values":[0,10000,20000,30000,40000,50000,60000],"format":"d","tickSize":3,"labelOverlap":false,"labelPadding":2,"labelFontSize":6,"title":"Threshold willingness-to-pay (£) per QALY","titleFontSize":6.8,"titlePadding":3}},
"y":{"field":"v","type":"quantitative","scale":{"domain":[0,1],"range":[207.7,8.7],"nice":false,"zero":false},
"axis":{"offset":-32,"values":[0,0.1,0.2,0.3,0.4,0.5,0.6,0.7,0.8,0.9,1],"format":".1f","tickSize":3,"labelOverlap":false,"labelPadding":2,"labelFontSize":6,"title":"Probability of intervention is cost-effective","titleFontSize":6.8,"titlePadding":2}},
"text":{"field":"t"}}}
]}
]},
{
"title":{"text":"b)\u00a0\u00a0\u00a0\u00a0Complete cases over 24 months follow-up (n=114)","anchor":"start","frame":"group","dx":33,"fontSize":12,"font":"Liberation Sans","fontWeight":"bold","color":"black","offset":4},
"spacing":0,
"hconcat":[
{"width":357,"height":256,
"layer":[
{"data":{"values":[{}]},"mark":{"type":"rect","fillOpacity":0,"stroke":"#a6a6a6","strokeWidth":1},
"encoding":{
"x":{"datum":-0.25,"type":"quantitative","scale":{"domain":[-0.25,0.1],"range":[46.7,343],"nice":false,"zero":false},
"axis":{"offset":-47,"values":[-0.25,-0.2,-0.15,-0.1,-0.05,0,0.05,0.1],"labelExpr":"replace(format(datum.value,'.2f'),'\u2212','-')","domain":false,"ticks":false,"labelOverlap":false,"labelPadding":7,"labelFontSize":6.5,"title":"Incremental QALYs gained","titleFontSize":7.8,"titlePadding":4}},
"x2":{"datum":0.1},
"y":{"datum":-500,"type":"quantitative","scale":{"domain":[-500,2000],"range":[209,6.7],"nice":false,"zero":false},
"axis":{"offset":-46.7,"values":[-500,0,500,1000,1500,2000],"labelExpr":"replace(format(datum.value,'d'),'\u2212','-')","domain":false,"ticks":false,"labelOverlap":false,"labelPadding":10,"labelFontSize":6.5,"title":"Incremental costs (£)","titleFontSize":7.8,"titlePadding":3}},
"y2":{"datum":2000}}},
{"data":{"values":[{}]},"mark":{"type":"rule","color":"#8c8c8c"},"encoding":{"x":{"datum":0,"type":"quantitative"},"y":{"datum":-500,"type":"quantitative"},"y2":{"datum":2000}}},
{"data":{"values":[{}]},"mark":{"type":"rule","color":"#8c8c8c"},"encoding":{"y":{"datum":0,"type":"quantitative"},"x":{"datum":-0.25,"type":"quantitative"},"x2":{"datum":0.1}}},
{"data":{"name":"sb"},"mark":{"type":"square","size":7,"color":"black","opacity":1},"encoding":{"x":{"field":"q","type":"quantitative"},"y":{"field":"c","type":"quantitative"}}},
{"data":{"name":"qb"},"mark":{"type":"point","shape":"M-1,-0.33L1,-0.33L1,0.33L-1,0.33Z","size":729,"filled":true,"color":"#d9d9d9","opacity":1,"strokeWidth":0},"encoding":{"x":{"field":"q","type":"quantitative"},"y":{"field":"c","type":"quantitative"}}},
{"data":{"name":"qb"},"mark":{"type":"text","fontSize":6,"color":"#404040"},"encoding":{"x":{"field":"q","type":"quantitative"},"y":{"field":"c","type":"quantitative"},"text":{"field":"lab"}}}
]},
{"width":351,"height":256,
"layer":[
{"data":{"values":[{}]},"mark":{"type":"rect","color":"#e3e5e2"},
"encoding":{
"x":{"datum":0,"type":"quantitative","scale":{"domain":[0,60000],"range":[37,331],"nice":false,"zero":false},
"axis":{"offset":-46,"values":[0,10000,20000,30000,40000,50000,60000],"format":"d","tickSize":3,"labelOverlap":false,"labelPadding":2,"labelFontSize":6,"title":"Threshold willingness-to-pay (£) per QALY","titleFontSize":6.8,"titlePadding":3}},
"x2":{"datum":60000},
"y":{"datum":0,"type":"quantitative","scale":{"domain":[0,1],"range":[210,7],"nice":false,"zero":false},
"axis":{"offset":-37,"values":[0,0.1,0.2,0.3,0.4,0.5,0.6,0.7,0.8,0.9,1],"format":".1f","tickSize":3,"labelOverlap":false,"labelPadding":2,"labelFontSize":6,"title":"Probability of intervention is cost-effective","titleFontSize":6.8,"titlePadding":2}},
"y2":{"datum":1}}},
{"data":{"name":"cb"},"mark":{"type":"line","color":"black"},"encoding":{
"x":{"field":"w","type":"quantitative","scale":{"domain":[0,60000],"range":[37,331],"nice":false,"zero":false},
"axis":{"offset":-46,"values":[0,10000,20000,30000,40000,50000,60000],"format":"d","tickSize":3,"labelOverlap":false,"labelPadding":2,"labelFontSize":6,"title":"Threshold willingness-to-pay (£) per QALY","titleFontSize":6.8,"titlePadding":3}},
"y":{"field":"v","type":"quantitative","scale":{"domain":[0,1],"range":[210,7],"nice":false,"zero":false},
"axis":{"offset":-37,"values":[0,0.1,0.2,0.3,0.4,0.5,0.6,0.7,0.8,0.9,1],"format":".1f","tickSize":3,"labelOverlap":false,"labelPadding":2,"labelFontSize":6,"title":"Probability of intervention is cost-effective","titleFontSize":6.8,"titlePadding":2}},
"strokeDash":{"field":"s","type":"nominal","scale":{"domain":["Placebo","Sodium bicarbonate"],"range":[[1,0],[2.5,1.5]]},"legend":null},
"strokeWidth":{"field":"s","type":"nominal","scale":{"domain":["Placebo","Sodium bicarbonate"],"range":[1.6,1.1]},"legend":null}}},
{"data":{"name":"tb"},"mark":{"type":"text","align":"left","baseline":"middle","fontSize":7.5,"color":"#222222"},"encoding":{
"x":{"field":"w","type":"quantitative","scale":{"domain":[0,60000],"range":[37,331],"nice":false,"zero":false},
"axis":{"offset":-46,"values":[0,10000,20000,30000,40000,50000,60000],"format":"d","tickSize":3,"labelOverlap":false,"labelPadding":2,"labelFontSize":6,"title":"Threshold willingness-to-pay (£) per QALY","titleFontSize":6.8,"titlePadding":3}},
"y":{"field":"v","type":"quantitative","scale":{"domain":[0,1],"range":[210,7],"nice":false,"zero":false},
"axis":{"offset":-37,"values":[0,0.1,0.2,0.3,0.4,0.5,0.6,0.7,0.8,0.9,1],"format":".1f","tickSize":3,"labelOverlap":false,"labelPadding":2,"labelFontSize":6,"title":"Probability of intervention is cost-effective","titleFontSize":6.8,"titlePadding":2}},
"text":{"field":"t"}}}
]}
]},
{
"title":{"text":["c)\u00a0\u00a0\u00a0\u00a0Complete cases and all participants starting renal replacement therapy during the trial over 24 months follow-","\u00a0\u00a0\u00a0\u00a0\u00a0\u00a0\u00a0up (n=161)"],"lineHeight":16,"anchor":"start","frame":"group","dx":33,"fontSize":12,"font":"Liberation Sans","fontWeight":"bold","color":"black","offset":5},
"spacing":0,
"hconcat":[
{"width":357,"height":237,
"layer":[
{"data":{"values":[{}]},"mark":{"type":"rect","fillOpacity":0,"stroke":"#a6a6a6","strokeWidth":1},
"encoding":{
"x":{"datum":-0.25,"type":"quantitative","scale":{"domain":[-0.25,0.1],"range":[46.7,343],"nice":false,"zero":false},
"axis":{"offset":-35,"values":[-0.25,-0.2,-0.15,-0.1,-0.05,0,0.05,0.1],"labelExpr":"replace(format(datum.value,'.2f'),'\u2212','-')","domain":false,"ticks":false,"labelOverlap":false,"labelPadding":6,"labelFontSize":6.5,"title":"Incremental QALYs gained","titleFontSize":7.8,"titlePadding":4}},
"x2":{"datum":0.1},
"y":{"datum":-8000,"type":"quantitative","scale":{"domain":[-8000,8000],"range":[202,6.7],"nice":false,"zero":false},
"axis":{"offset":-46.7,"values":[-8000,-6000,-4000,-2000,0,2000,4000,6000,8000],"labelExpr":"replace(format(datum.value,'d'),'\u2212','-')","domain":false,"ticks":false,"labelOverlap":false,"labelPadding":6,"labelFontSize":6.5,"title":"Incremental costs (£)","titleFontSize":7.8,"titlePadding":3}},
"y2":{"datum":8000}}},
{"data":{"values":[{}]},"mark":{"type":"rule","color":"#8c8c8c"},"encoding":{"x":{"datum":0,"type":"quantitative"},"y":{"datum":-8000,"type":"quantitative"},"y2":{"datum":8000}}},
{"data":{"values":[{}]},"mark":{"type":"rule","color":"#8c8c8c"},"encoding":{"y":{"datum":0,"type":"quantitative"},"x":{"datum":-0.25,"type":"quantitative"},"x2":{"datum":0.1}}},
{"data":{"name":"sc"},"mark":{"type":"square","size":7,"color":"black","opacity":1},"encoding":{"x":{"field":"q","type":"quantitative"},"y":{"field":"c","type":"quantitative"}}},
{"data":{"name":"qc"},"mark":{"type":"point","shape":"M-1,-0.33L1,-0.33L1,0.33L-1,0.33Z","size":729,"filled":true,"color":"#d9d9d9","opacity":1,"strokeWidth":0},"encoding":{"x":{"field":"q","type":"quantitative"},"y":{"field":"c","type":"quantitative"}}},
{"data":{"name":"qc"},"mark":{"type":"text","fontSize":6,"color":"#404040"},"encoding":{"x":{"field":"q","type":"quantitative"},"y":{"field":"c","type":"quantitative"},"text":{"field":"lab"}}}
]},
{"width":351,"height":237,
"layer":[
{"data":{"values":[{}]},"mark":{"type":"rect","color":"#e3e5e2"},
"encoding":{
"x":{"datum":0,"type":"quantitative","scale":{"domain":[0,60000],"range":[37,326],"nice":false,"zero":false},
"axis":{"offset":-29.7,"values":[0,10000,20000,30000,40000,50000,60000],"format":"d","tickSize":3,"labelOverlap":false,"labelPadding":2,"labelFontSize":6,"title":"Threshold willingness-to-pay (£) per QALY","titleFontSize":6.8,"titlePadding":3}},
"x2":{"datum":60000},
"y":{"datum":0,"type":"quantitative","scale":{"domain":[0,1],"range":[207.3,7.3],"nice":false,"zero":false},
"axis":{"offset":-37,"values":[0,0.1,0.2,0.3,0.4,0.5,0.6,0.7,0.8,0.9,1],"format":".1f","tickSize":3,"labelOverlap":false,"labelPadding":2,"labelFontSize":6,"title":"Probability of intervention is cost-effective","titleFontSize":6.8,"titlePadding":2}},
"y2":{"datum":1}}},
{"data":{"name":"cc"},"mark":{"type":"line","color":"black"},"encoding":{
"x":{"field":"w","type":"quantitative","scale":{"domain":[0,60000],"range":[37,326],"nice":false,"zero":false},
"axis":{"offset":-29.7,"values":[0,10000,20000,30000,40000,50000,60000],"format":"d","tickSize":3,"labelOverlap":false,"labelPadding":2,"labelFontSize":6,"title":"Threshold willingness-to-pay (£) per QALY","titleFontSize":6.8,"titlePadding":3}},
"y":{"field":"v","type":"quantitative","scale":{"domain":[0,1],"range":[207.3,7.3],"nice":false,"zero":false},
"axis":{"offset":-37,"values":[0,0.1,0.2,0.3,0.4,0.5,0.6,0.7,0.8,0.9,1],"format":".1f","tickSize":3,"labelOverlap":false,"labelPadding":2,"labelFontSize":6,"title":"Probability of intervention is cost-effective","titleFontSize":6.8,"titlePadding":2}},
"strokeDash":{"field":"s","type":"nominal","scale":{"domain":["Placebo","Sodium bicarbonate"],"range":[[1,0],[2.5,1.5]]},"legend":null},
"strokeWidth":{"field":"s","type":"nominal","scale":{"domain":["Placebo","Sodium bicarbonate"],"range":[1.6,1.1]},"legend":null}}},
{"data":{"name":"tc"},"mark":{"type":"text","align":"left","baseline":"middle","fontSize":7.5,"color":"#222222"},"encoding":{
"x":{"field":"w","type":"quantitative","scale":{"domain":[0,60000],"range":[37,326],"nice":false,"zero":false},
"axis":{"offset":-29.7,"values":[0,10000,20000,30000,40000,50000,60000],"format":"d","tickSize":3,"labelOverlap":false,"labelPadding":2,"labelFontSize":6,"title":"Threshold willingness-to-pay (£) per QALY","titleFontSize":6.8,"titlePadding":3}},
"y":{"field":"v","type":"quantitative","scale":{"domain":[0,1],"range":[207.3,7.3],"nice":false,"zero":false},
"axis":{"offset":-37,"values":[0,0.1,0.2,0.3,0.4,0.5,0.6,0.7,0.8,0.9,1],"format":".1f","tickSize":3,"labelOverlap":false,"labelPadding":2,"labelFontSize":6,"title":"Probability of intervention is cost-effective","titleFontSize":6.8,"titlePadding":2}},
"text":{"field":"t"}}}
]}
]}
]
}
